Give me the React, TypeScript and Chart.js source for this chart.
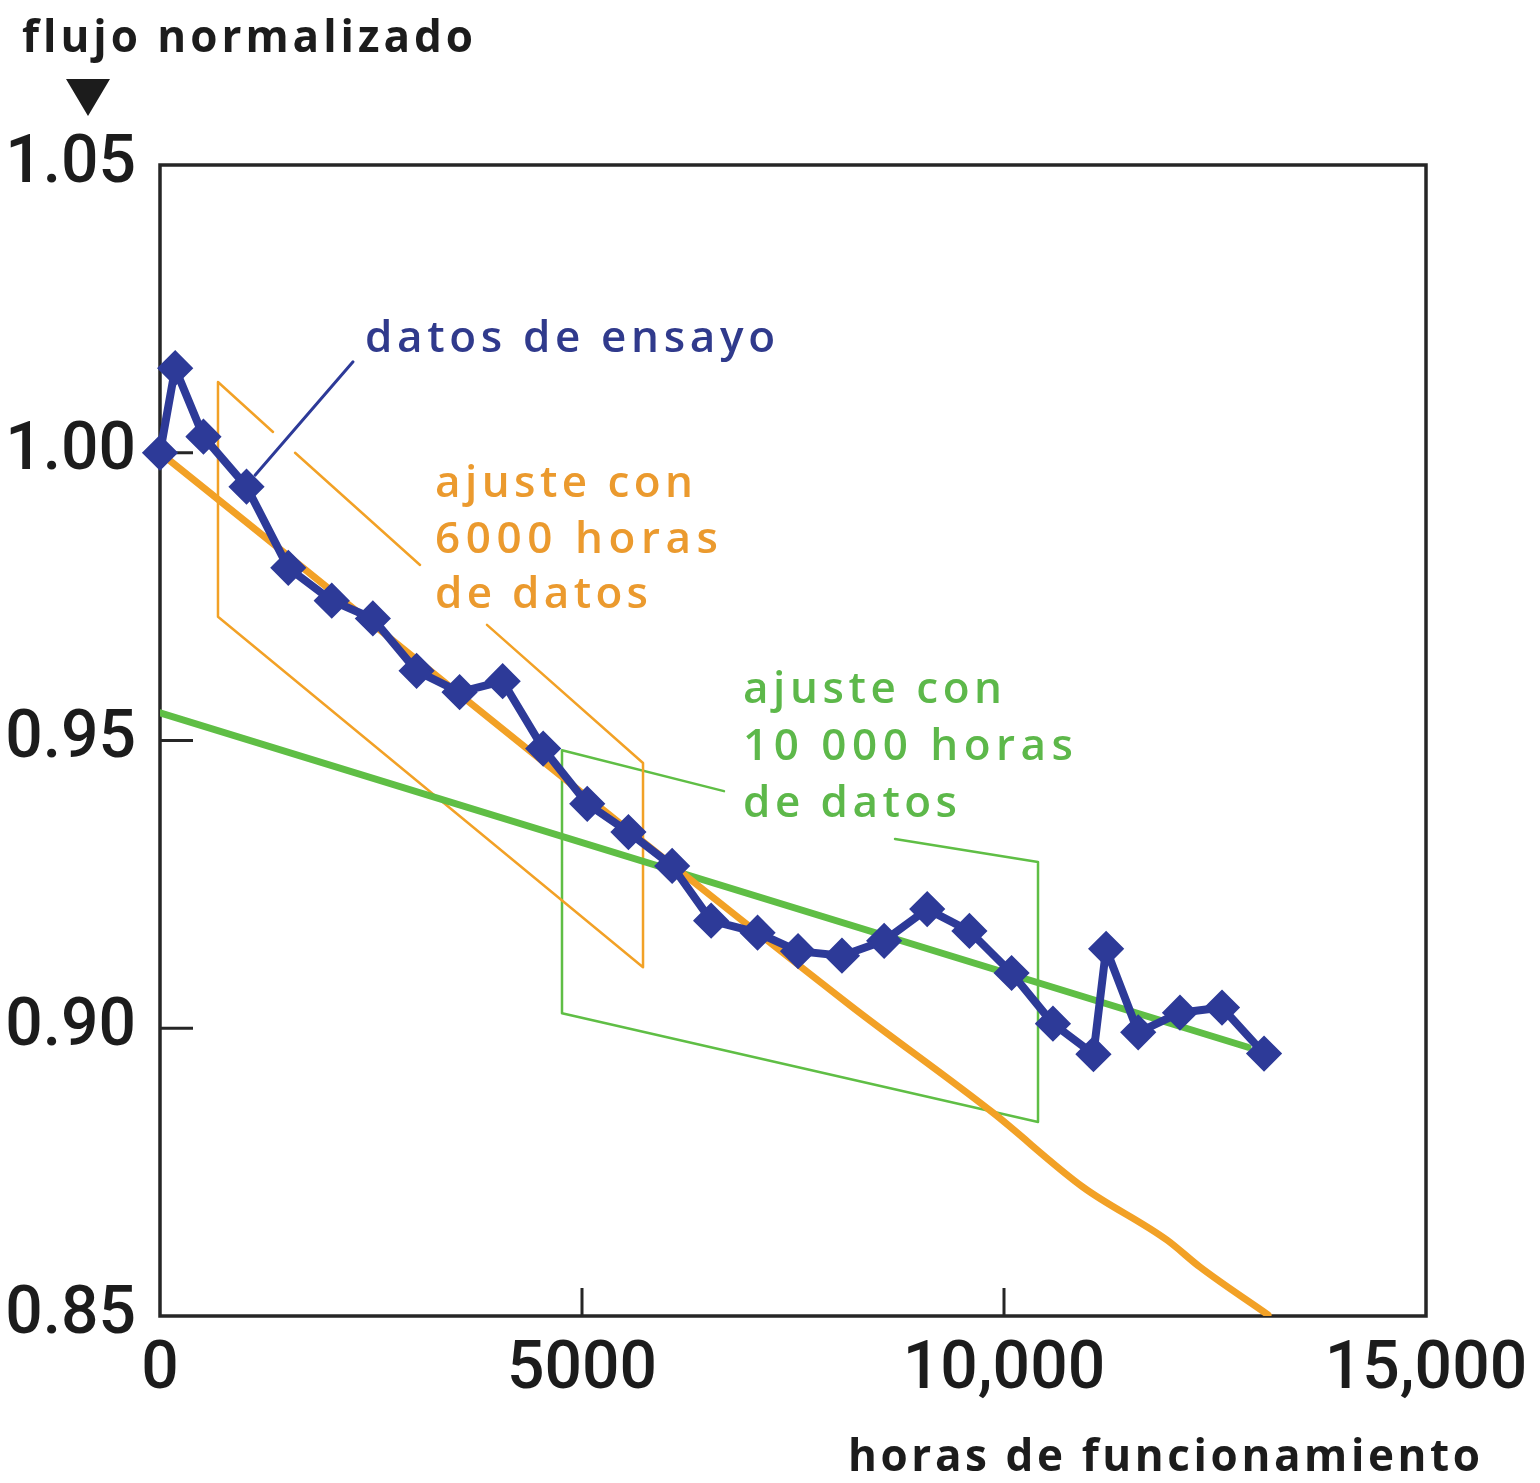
import React, { useEffect, useRef } from "react";
import { Chart, registerables } from "chart.js";

Chart.register(...registerables);

// ---- data ----
const hours = [0, 180, 515, 1025, 1520, 2035, 2522, 3040, 3550, 4060, 4540, 5062, 5550, 6068, 6530, 7080, 7560, 8080, 8580, 9090, 9590, 10090, 10580, 11060, 11210, 11590, 12085, 12583, 13081];
const flux = [1.0, 1.0147, 1.0028, 0.9941, 0.98, 0.9743, 0.9712, 0.9621, 0.9584, 0.9603, 0.9486, 0.939, 0.9341, 0.9282, 0.9187, 0.9166, 0.9134, 0.9126, 0.9152, 0.9207, 0.9169, 0.9096, 0.9008, 0.8955, 0.9138, 0.8993, 0.9027, 0.9036, 0.8956];

const fit6000X = [0, 8175, 9870, 10936, 11931, 12322, 13128];
const fit6000Y = [1.0, 0.904, 0.8853, 0.8724, 0.8632, 0.8585, 0.8502];

const fit10000X = [0, 12891];
const fit10000Y = [0.9548, 0.8967];

// bracket outlines (null = gap where the labels sit)
const box6000X = [687, 687, 1339, null, 1600, 3081, null, 3874, 5723, 5723, 687];
const box6000Y = [0.9715, 1.0123, 1.0036, null, 1.0, 0.9805, null, 0.9701, 0.9461, 0.9106, 0.9715];
const box10000X = [4763, 4763, 6682, null, 8709, 10403, 10403, 4763];
const box10000Y = [0.9026, 0.9483, 0.9412, null, 0.9329, 0.9289, 0.8837, 0.9026];

const leaderX = [2287, 1126];
const leaderY = [1.0158, 0.9961];

const xTickValues = [0, 5000, 10000, 15000];
const xTickLabels = ["0", "5000", "10,000", "15,000"];
const yTickValues = [0.85, 0.9, 0.95, 1.0, 1.05];
const yTickLabels = ["0.85", "0.90", "0.95", "1.00", "1.05"];

const noteTexts = ["datos de ensayo", "ajuste con", "6000 horas", "de datos", "ajuste con", "10 000 horas", "de datos"];
const noteX = [2429, 3258, 3258, 3258, 6908, 6908, 6908];
const noteY = [1.0175, 0.9923, 0.9826, 0.973, 0.9565, 0.9466, 0.9367];

const yTitle = "flujo normalizado";
const xTitle = "horas de funcionamiento";

// ---- styles ----
const BLUE = "#2d3a98";
const BLUE_TEXT = "#303a8c";
const ORANGE = "#f2a126";
const ORANGE_TEXT = "#eb9a2e";
const GREEN = "#5fbe45";
const GREEN_TEXT = "#5db84a";
const INK = "#1c1c1c";
const noteColors = [BLUE_TEXT, ORANGE_TEXT, ORANGE_TEXT, ORANGE_TEXT, GREEN_TEXT, GREEN_TEXT, GREEN_TEXT];
const noteWidths = [410, 258, 283, 213, 259, 330, 214];
const LABEL_FONT = "600 44px 'Open Sans', 'Noto Sans', sans-serif";
const TITLE_FONT = "700 44px 'Open Sans', 'Noto Sans', sans-serif";
const TICK_FAMILY = "Roboto, 'Noto Sans', sans-serif";

const pts = (xs: (number | null)[], ys: (number | null)[]) => xs.map((x, i) => ({ x, y: ys[i] }));

function fitText(ctx: CanvasRenderingContext2D, text: string, x: number, y: number, width: number) {
  (ctx as any).letterSpacing = "0px";
  const w = ctx.measureText(text).width;
  const ls = (width - w) / Math.max(1, text.length - 1);
  (ctx as any).letterSpacing = ls + "px";
  ctx.fillText(text, x, y);
  (ctx as any).letterSpacing = "0px";
}

const decor = {
  id: "decor",
  beforeDatasetsDraw(chart: any) {
    const { ctx, chartArea: a, scales } = chart;
    ctx.save();
    ctx.strokeStyle = "#262626";
    ctx.lineWidth = 3.5;
    ctx.strokeRect(a.left, a.top, a.right - a.left, a.bottom - a.top);
    ctx.lineWidth = 3;
    ctx.beginPath();
    yTickValues.slice(1, -1).forEach((v) => {
      const y = scales.y.getPixelForValue(v);
      ctx.moveTo(a.left, y);
      ctx.lineTo(a.left + 33, y);
    });
    xTickValues.slice(1, -1).forEach((v) => {
      const x = scales.x.getPixelForValue(v);
      ctx.moveTo(x, a.bottom);
      ctx.lineTo(x, a.bottom - 28);
    });
    ctx.stroke();
    ctx.restore();
  },
  afterDraw(chart: any) {
    const { ctx, scales } = chart;
    ctx.save();
    ctx.textBaseline = "alphabetic";
    ctx.textAlign = "left";
    ctx.font = LABEL_FONT;
    noteTexts.forEach((t, i) => {
      ctx.fillStyle = noteColors[i];
      fitText(ctx, t, scales.x.getPixelForValue(noteX[i]), scales.y.getPixelForValue(noteY[i]), noteWidths[i]);
    });
    ctx.fillStyle = INK;
    ctx.font = TITLE_FONT;
    fitText(ctx, yTitle, 22, 52, 451);
    fitText(ctx, xTitle, 848, 1471, 632);
    // arrow marker under the y title
    ctx.beginPath();
    ctx.moveTo(66, 79);
    ctx.lineTo(110, 79);
    ctx.lineTo(88, 116);
    ctx.closePath();
    ctx.fill();
    ctx.restore();
  },
};

export default function App() {
  const ref = useRef<HTMLCanvasElement>(null);
  useEffect(() => {
    const canvas = ref.current!;
    const tickFont = { family: TICK_FAMILY, size: 66, weight: 500 as any };
    const chart = new Chart(canvas, {
      type: "line",
      data: {
        datasets: [
          {
            data: pts(hours, flux),
            borderColor: BLUE,
            borderWidth: 8,
            pointStyle: "rectRot",
            pointRadius: 16,
            pointBackgroundColor: BLUE,
            pointBorderColor: BLUE,
            pointBorderWidth: 3,
            tension: 0,
            clip: false,
            order: 0,
          } as any,
          { data: pts(leaderX, leaderY), borderColor: BLUE, borderWidth: 3, pointRadius: 0, order: 1 },
          {
            data: pts(fit6000X, fit6000Y),
            borderColor: ORANGE,
            borderWidth: 7,
            pointRadius: 0,
            cubicInterpolationMode: "monotone",
            order: 2,
          } as any,
          { data: pts(fit10000X, fit10000Y), borderColor: GREEN, borderWidth: 7, pointRadius: 0, order: 3 },
          { data: pts(box6000X, box6000Y), borderColor: ORANGE, borderWidth: 2.5, pointRadius: 0, spanGaps: false, order: 4 },
          { data: pts(box10000X, box10000Y), borderColor: GREEN, borderWidth: 2.5, pointRadius: 0, spanGaps: false, order: 5 },
        ],
      },
      options: {
        responsive: false,
        animation: false,
        devicePixelRatio: 1,
        layout: { padding: { top: 165, right: 114, left: 0, bottom: 0 } },
        plugins: { legend: { display: false }, tooltip: { enabled: false } },
        elements: { line: { tension: 0, borderJoinStyle: "round", borderCapStyle: "round" } },
        scales: {
          x: {
            type: "linear",
            min: 0,
            max: 15000,
            afterBuildTicks: (s: any) => {
              s.ticks = xTickValues.map((v) => ({ value: v }));
            },
            afterFit: (s: any) => {
              s.height = 167;
              s.paddingLeft = 0;
              s.paddingRight = 0;
            },
            grid: { display: false, drawTicks: false },
            border: { display: false },
            ticks: {
              autoSkip: false,
              maxRotation: 0,
              padding: 16,
              color: INK,
              font: tickFont,
              callback: (_v: any, i: number) => xTickLabels[i],
            },
          },
          y: {
            type: "linear",
            min: 0.85,
            max: 1.05,
            afterBuildTicks: (s: any) => {
              s.ticks = yTickValues.map((v) => ({ value: v }));
            },
            afterFit: (s: any) => {
              s.width = 160;
              s.paddingTop = 0;
              s.paddingBottom = 0;
            },
            grid: { display: false, drawTicks: false },
            border: { display: false },
            ticks: {
              autoSkip: false,
              padding: 24,
              color: INK,
              font: tickFont,
              callback: (_v: any, i: number) => yTickLabels[i],
            },
          },
        },
      },
      plugins: [decor],
    });
    return () => chart.destroy();
  }, []);
  return (
    <div style={{ position: "absolute", left: 0, top: 0, width: 1540, height: 1483, background: "#fff" }}>
      <canvas ref={ref} width={1540} height={1483} style={{ display: "block", width: 1540, height: 1483 }} />
    </div>
  );
}
